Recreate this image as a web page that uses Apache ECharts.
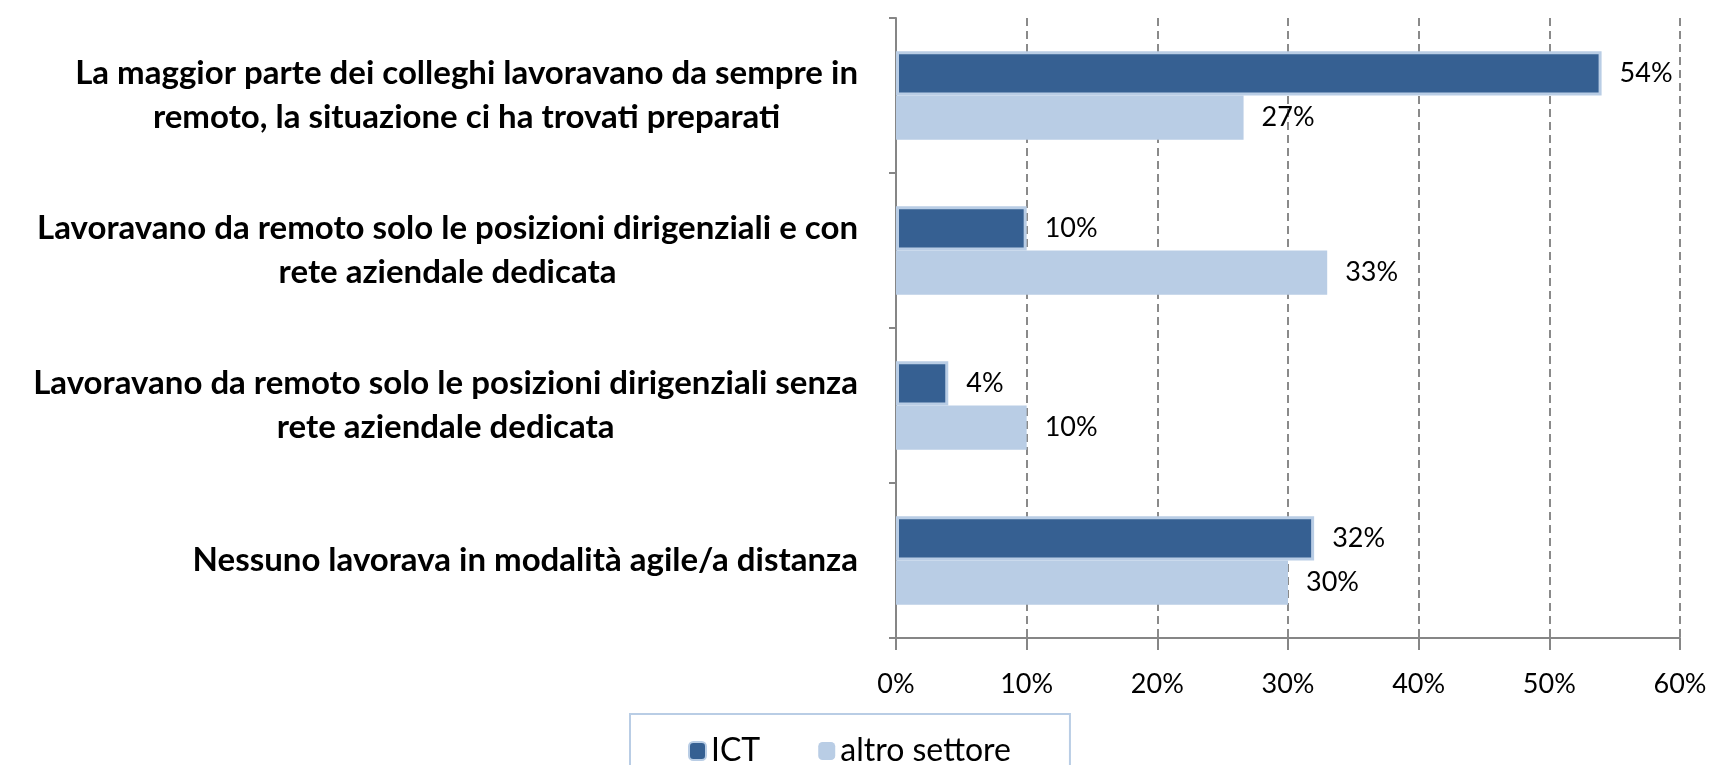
<!DOCTYPE html>
<html>
<head>
<meta charset="utf-8">
<script src="https://cdn.jsdelivr.net/npm/echarts@6/dist/echarts.min.js"></script>
<style>
html,body{margin:0;padding:0;background:#fff;}
#chart{width:1710px;height:765px;}
</style>
</head>
<body>
<div id="chart"></div>
<script>
// categorie (dall'alto verso il basso)
var categorie=[
    'La maggior parte dei colleghi lavoravano da sempre in\nremoto, la situazione ci ha trovati preparati',
    'Lavoravano da remoto solo le posizioni dirigenziali e con\nrete aziendale dedicata',
    'Lavoravano da remoto solo le posizioni dirigenziali senza\nrete aziendale dedicata',
    'Nessuno lavorava in modalità agile/a distanza'
];
var ict=[54,10,4,32];
var altro=[26.6,33,10,30];
var serie=['ICT','altro settore'];

var font='Lato';
var myChart=echarts.init(document.getElementById('chart'));
var option={
    animation:false,
    backgroundColor:'#fff',
    textStyle:{fontFamily:font},
    grid:{left:896,right:30,top:18,bottom:127},
    legend:{
        data:serie,
        left:630,
        top:714,
        orient:'horizontal',
        itemWidth:17,
        itemHeight:18,
        itemGap:58,
        padding:[21,59,30,58],
        borderColor:'#b9cde5',
        borderWidth:2,
        textStyle:{color:'#000',fontSize:32,fontFamily:font}
    },
    xAxis:{
        type:'value',
        min:0,
        max:60,
        interval:10,
        axisLine:{show:true,lineStyle:{color:'#868686',width:2}},
        axisTick:{show:true,length:12,lineStyle:{color:'#868686',width:2}},
        axisLabel:{
            color:'#000',
            fontSize:27,
            fontFamily:font,
            margin:33,
            formatter:function(v){return v+'%';}
        },
        splitLine:{show:true,lineStyle:{color:'#8a8a8a',width:2,type:[8,5]}}
    },
    yAxis:{
        type:'category',
        data:categorie,
        inverse:true,
        axisLine:{show:true,lineStyle:{color:'#868686',width:2}},
        axisTick:{show:true,length:7,lineStyle:{color:'#868686',width:2}},
        axisLabel:{
            margin:38,
            align:'right',
            formatter:function(v){
                return v.split('\n').map(function(s){return '{c|'+s+'}';}).join('\n');
            },
            rich:{
                c:{align:'center',color:'#000',fontSize:33,fontWeight:'bold',lineHeight:44,fontFamily:font}
            }
        }
    },
    series:[
        {
            name:serie[0],
            type:'bar',
            data:ict,
            barGap:'0%',
            barCategoryGap:'43%',
            itemStyle:{color:'#366092',borderColor:'#b9cde5',borderWidth:3},
            label:{
                show:true,
                position:'right',
                distance:18,
                color:'#000',
                fontSize:27,
                fontFamily:font,
                formatter:function(p){return Math.round(p.value)+'%';}
            }
        },
        {
            name:serie[1],
            type:'bar',
            data:altro,
            itemStyle:{color:'#b9cde5'},
            label:{
                show:true,
                position:'right',
                distance:18,
                color:'#000',
                fontSize:27,
                fontFamily:font,
                formatter:function(p){return Math.round(p.value)+'%';}
            }
        }
    ]
};
myChart.setOption(option);
</script>
</body>
</html>
